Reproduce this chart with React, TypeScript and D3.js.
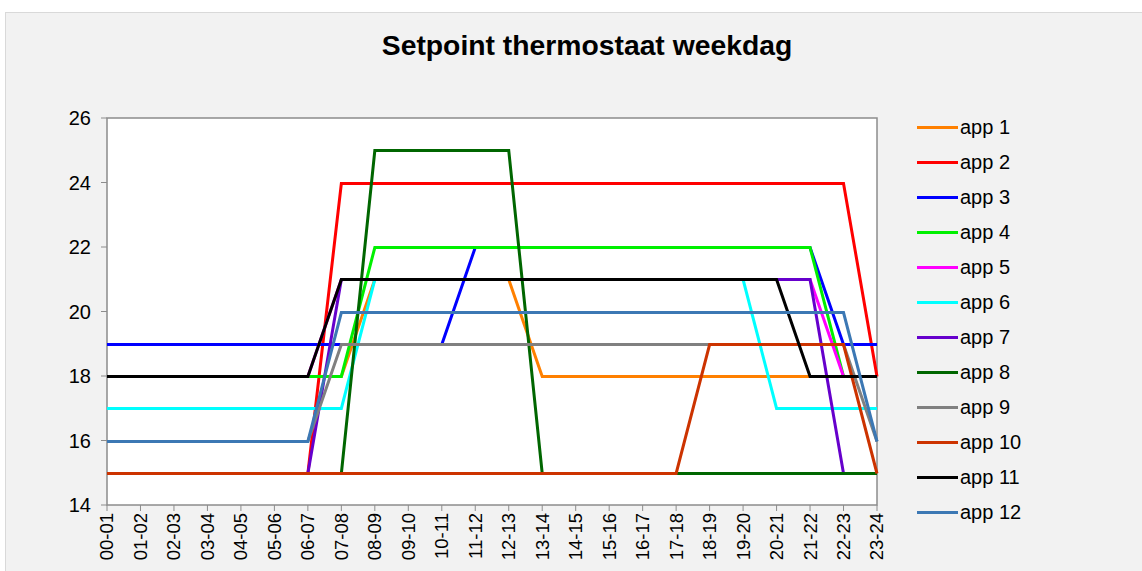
import * as d3 from 'd3';

const hours = ['00-01', '01-02', '02-03', '03-04', '04-05', '05-06', '06-07', '07-08', '08-09', '09-10', '10-11', '11-12',
  '12-13', '13-14', '14-15', '15-16', '16-17', '17-18', '18-19', '19-20', '20-21', '21-22', '22-23', '23-24'];

const yTicks = [14, 16, 18, 20, 22, 24, 26];

const seriesNames = ['app 1', 'app 2', 'app 3', 'app 4', 'app 5', 'app 6', 'app 7', 'app 8', 'app 9', 'app 10', 'app 11', 'app 12'];

const app1 = [18, 18, 18, 18, 18, 18, 18, 18, 21, 21, 21, 21, 21, 18, 18, 18, 18, 18, 18, 18, 18, 18, 18, 18];
const app2 = [15, 15, 15, 15, 15, 15, 15, 24, 24, 24, 24, 24, 24, 24, 24, 24, 24, 24, 24, 24, 24, 24, 24, 18];
const app3 = [19, 19, 19, 19, 19, 19, 19, 19, 19, 19, 19, 22, 22, 22, 22, 22, 22, 22, 22, 22, 22, 22, 19, 19];
const app4 = [18, 18, 18, 18, 18, 18, 18, 18, 22, 22, 22, 22, 22, 22, 22, 22, 22, 22, 22, 22, 22, 22, 18, 18];
const app5 = [18, 18, 18, 18, 18, 18, 18, 21, 21, 21, 21, 21, 21, 21, 21, 21, 21, 21, 21, 21, 21, 21, 18, 18];
const app6 = [17, 17, 17, 17, 17, 17, 17, 17, 21, 21, 21, 21, 21, 21, 21, 21, 21, 21, 21, 21, 17, 17, 17, 17];
const app7 = [15, 15, 15, 15, 15, 15, 15, 21, 21, 21, 21, 21, 21, 21, 21, 21, 21, 21, 21, 21, 21, 21, 15, 15];
const app8 = [15, 15, 15, 15, 15, 15, 15, 15, 25, 25, 25, 25, 25, 15, 15, 15, 15, 15, 15, 15, 15, 15, 15, 15];
const app9 = [16, 16, 16, 16, 16, 16, 16, 19, 19, 19, 19, 19, 19, 19, 19, 19, 19, 19, 19, 19, 19, 19, 19, 16];
const app10 = [15, 15, 15, 15, 15, 15, 15, 15, 15, 15, 15, 15, 15, 15, 15, 15, 15, 15, 19, 19, 19, 19, 19, 15];
const app11 = [18, 18, 18, 18, 18, 18, 18, 21, 21, 21, 21, 21, 21, 21, 21, 21, 21, 21, 21, 21, 21, 18, 18, 18];
const app12 = [16, 16, 16, 16, 16, 16, 16, 20, 20, 20, 20, 20, 20, 20, 20, 20, 20, 20, 20, 20, 20, 20, 20, 16];

const colors = ['#FF8000', '#FF0000', '#0000FF', '#00F000', '#FF00FF', '#00FFFF', '#6600CC', '#006600', '#808080', '#CC3300', '#000000', '#3C78B4'];

const allSeries = [app1, app2, app3, app4, app5, app6, app7, app8, app9, app10, app11, app12];

const font = '"Liberation Sans", Arial, sans-serif';

export default function App() {
  const left = 107, right = 877, top = 118, bottom = 505;

  const x = d3.scalePoint<string>().domain(hours).range([left, right]);
  const y = d3.scaleLinear().domain([14, 26]).range([bottom, top]);

  // snap to pixel centres so overlapping flat segments hide each other cleanly
  const line = d3.line<number>()
    .x((_, i) => x(hours[i]) as number)
    .y(d => Math.round(y(d)) + 0.5);

  const legendY = d3.scalePoint<string>().domain(seriesNames).range([127, 512]);

  return (
    <svg width={1142} height={571} style={{ position: 'absolute', left: 0, top: 0 }} fontFamily={font}>
      <rect x={0} y={0} width={1142} height={571} fill="#ffffff" />
      <rect x={5.5} y={12.5} width={1145} height={570} fill="#F2F2F2" stroke="#D9D9D9" />
      <text x={587} y={55} textAnchor="middle" fontSize={28.3} fontWeight="bold" fill="#000">
        Setpoint thermostaat weekdag
      </text>

      {/* plot area */}
      <rect x={left} y={top} width={right - left} height={bottom - top} fill="#ffffff" stroke="#8C8C8C" strokeWidth={1.5} />

      {/* y axis */}
      {yTicks.map(t => (
        <g key={t}>
          <line x1={left - 6} x2={left} y1={y(t)} y2={y(t)} stroke="#8C8C8C" strokeWidth={1} />
          <text x={91} y={y(t)} dy="0.35em" textAnchor="end" fontSize={20} fill="#000">{t}</text>
        </g>
      ))}

      {/* x axis */}
      {hours.map(h => (
        <g key={h}>
          <line x1={x(h)} x2={x(h)} y1={bottom} y2={bottom + 6} stroke="#8C8C8C" strokeWidth={1} />
          <text transform={`translate(${(x(h) as number)},${bottom + 8}) rotate(-90)`} dy="0.35em"
            textAnchor="end" fontSize={18.5} fill="#000">{h}</text>
        </g>
      ))}

      {/* lines */}
      {allSeries.map((s, i) => (
        <path key={seriesNames[i]} d={line(s) ?? ''} fill="none" stroke={colors[i]} strokeWidth={3} strokeLinejoin="miter" />
      ))}

      {/* legend */}
      {seriesNames.map((n, i) => (
        <g key={n}>
          <line x1={917} x2={958} y1={Math.round(legendY(n) as number) + 0.5} y2={Math.round(legendY(n) as number) + 0.5} stroke={colors[i]} strokeWidth={3} />
          <text x={960} y={legendY(n)} dy="0.35em" fontSize={20} fill="#000">{n}</text>
        </g>
      ))}
    </svg>
  );
}
